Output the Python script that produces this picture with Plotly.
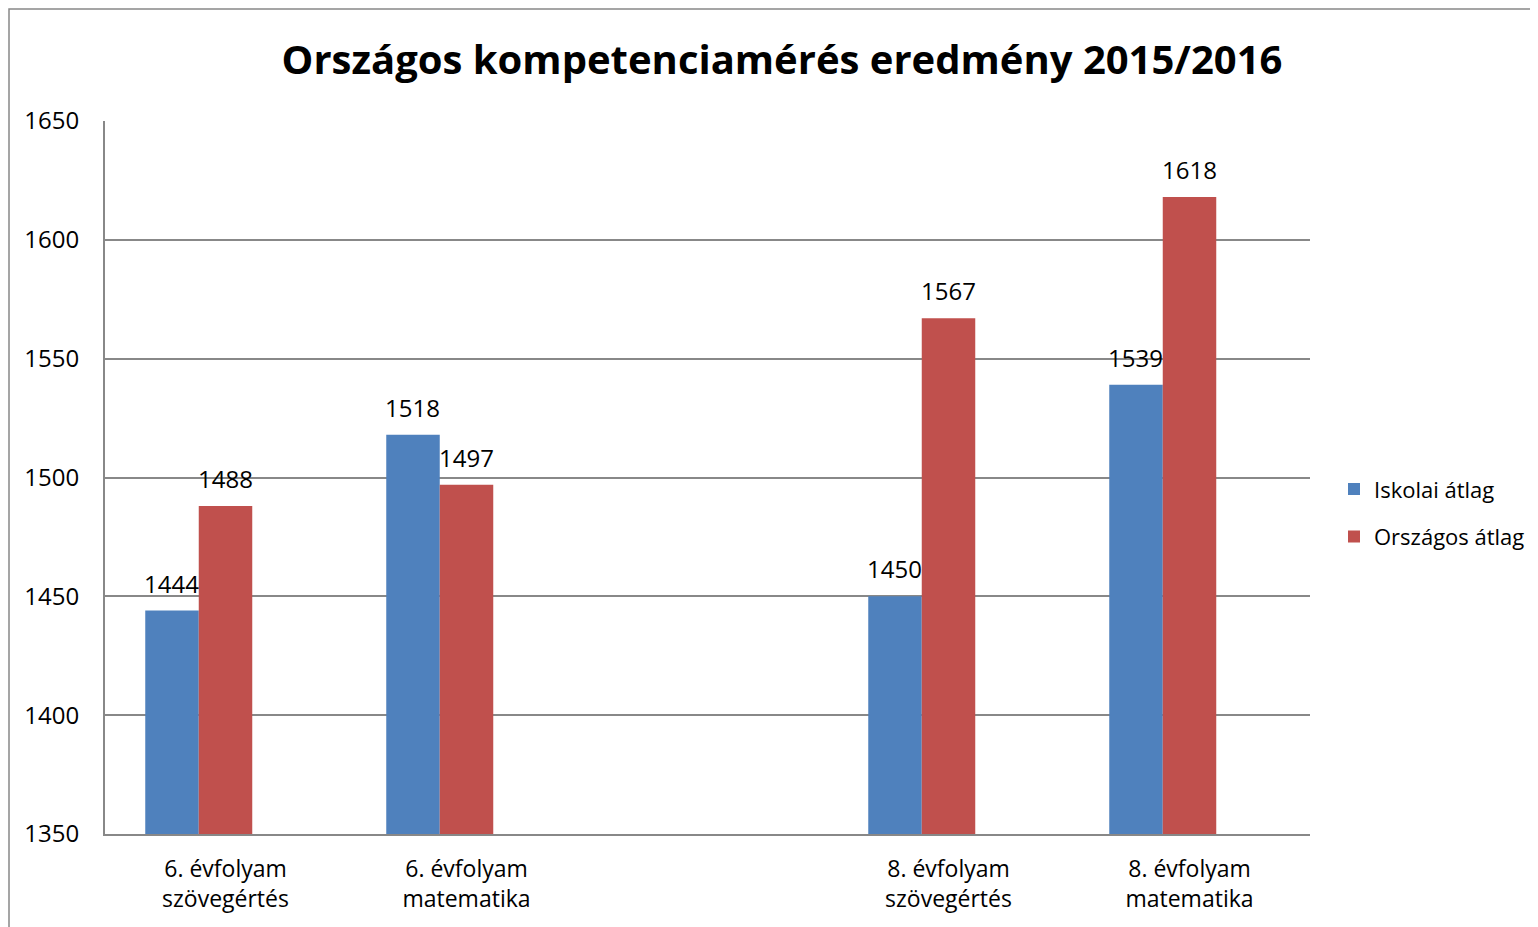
import plotly.graph_objects as go

categories = ["6. évfolyam<br>szövegértés", "6. évfolyam<br>matematika", " ",
              "8. évfolyam<br>szövegértés", "8. évfolyam<br>matematika"]
iskolai = [1444, 1518, None, 1450, 1539]
orszagos = [1488, 1497, None, 1567, 1618]
ures = [None, None, None, None, None]  # empty third series (keeps Excel group spacing)
series_names = ["Iskolai átlag", "Országos átlag"]
colors = ["#4F81BD", "#C0504D"]
title_text = "Országos kompetenciamérés eredmény 2015/2016"

FONT = "Open Sans"
W, H = 1530, 919
L, R, T, B = 97, 228, 113, 93
BARGAP = 0.334
N_SLOTS = 3
plot_w = W - L - R
plot_h = H - T - B
cat_px = plot_w / len(categories)
bar_px = cat_px * (1 - BARGAP) / N_SLOTS

fig = go.Figure()
for i, (name, vals) in enumerate([(series_names[0], iskolai), (series_names[1], orszagos)]):
    fig.add_trace(go.Bar(
        x=categories, y=vals, name=name, marker_color=colors[i],
        marker_line_width=0, legendgroup=name,
    ))
    shift = (i - (N_SLOTS - 1) / 2) * bar_px
    for c, v in zip(categories, vals):
        if v is None:
            continue
        fig.add_annotation(x=c, y=v, text=str(v), showarrow=False,
                           xanchor="center", yanchor="bottom",
                           xshift=shift, yshift=9,
                           font=dict(family=FONT, size=24, color="black"))
fig.add_trace(go.Bar(x=categories, y=ures, name="", showlegend=False,
                     marker_color="rgba(0,0,0,0)", hoverinfo="skip"))

fig.update_layout(
    width=W, height=H,
    margin=dict(l=L, r=R, t=T, b=B, autoexpand=False),
    paper_bgcolor="white", plot_bgcolor="white",
    barmode="group", bargap=BARGAP, bargroupgap=0,
    showlegend=True,
    title=dict(text="<b>" + title_text + "</b>", x=774/W, xanchor="center",
               y=1 - 52/H, yanchor="middle",
               font=dict(family=FONT, size=40, color="black")),
    legend=dict(x=(1326 - L)/plot_w, xanchor="left", y=0.45, yanchor="middle",
                font=dict(family=FONT, size=22, color="black"),
                itemwidth=30, tracegroupgap=16),
    font=dict(family=FONT, color="black"),
)
fig.update_xaxes(showline=True, linecolor="#888888", linewidth=2,
                 tickfont=dict(family=FONT, size=23, color="black"),
                 ticks="", showgrid=False, ticklabelstandoff=13)
fig.update_yaxes(range=[1350, 1650], dtick=50, showline=True,
                 linecolor="#888888", linewidth=2, showgrid=True,
                 gridcolor="#888888", gridwidth=1.5, ticks="",
                 tickfont=dict(family=FONT, size=24, color="black"),
                 ticklabelstandoff=19, zeroline=False)
fig.add_shape(type="rect", xref="paper", yref="paper",
              x0=(1 - L)/plot_w, x1=(W + 40 - L)/plot_w,
              y0=-(B + 40)/plot_h, y1=1 + (T - 1)/plot_h,
              line=dict(color="#888888", width=1.5), fillcolor="rgba(0,0,0,0)",
              layer="below")
fig.write_html("out.html")
